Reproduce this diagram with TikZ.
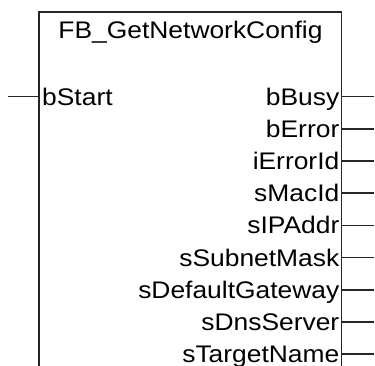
\documentclass[tikz,border=0pt]{standalone}
\usepackage{fontspec}
\setmainfont{Liberation Sans}
\newcommand{\pinfont}{\fontsize{24}{28}\selectfont}
\newcommand{\wide}[1]{\scalebox{1.1}[1]{#1}}
\begin{document}
\begin{tikzpicture}[x=1pt,y=-1pt]
\tikzset{
  frame/.style={line width=1.6pt, draw=black!85},
  wire/.style={line width=1.6pt, draw=black!85},
  outlabel/.style={anchor=base east, inner sep=0pt, font=\pinfont},
  inlabel/.style={anchor=base west, inner sep=0pt, font=\pinfont},
  titlelabel/.style={anchor=base, inner sep=0pt, font=\pinfont}
}
\useasboundingbox (0,0) rectangle (375,365);
% block frame (open at the bottom)
\coordinate (bl) at (39,366);
\coordinate (tl) at (39,12);
\coordinate (tr) at (341.5,12);
\coordinate (br) at (341.5,366);
\draw[frame] (bl) -- (tl) -- (tr) -- (br);
\node[titlelabel] (title) at (190.5,38.5) {\wide{FB\_GetNetworkConfig}};
% input
\coordinate (inA) at (8,96.5);
\coordinate (inB) at (39,96.5);
\draw[wire] (inA) -- (inB);
\node[inlabel] (bStart) at (42,105) {\wide{bStart}};
% outputs
\foreach \n/\t [count=\i from 0] in {bBusy/bBusy,bError/bError,iErrorId/iErrorId,sMacId/sMacId,sIPAddr/sIPAddr,sSubnetMask/sSubnetMask,sDefaultGateway/sDefaultGateway,sDnsServer/sDnsServer,sTargetName/sTargetName}{
  \coordinate (\n-a) at (341.5,{96.5+32.2*\i});
  \coordinate (\n-b) at (374,{96.5+32.2*\i});
  \draw[wire] (\n-a) -- (\n-b);
  \node[outlabel] (\n) at (339.5,{105+32.2*\i}) {\wide{\t}};
}
\end{tikzpicture}
\end{document}
